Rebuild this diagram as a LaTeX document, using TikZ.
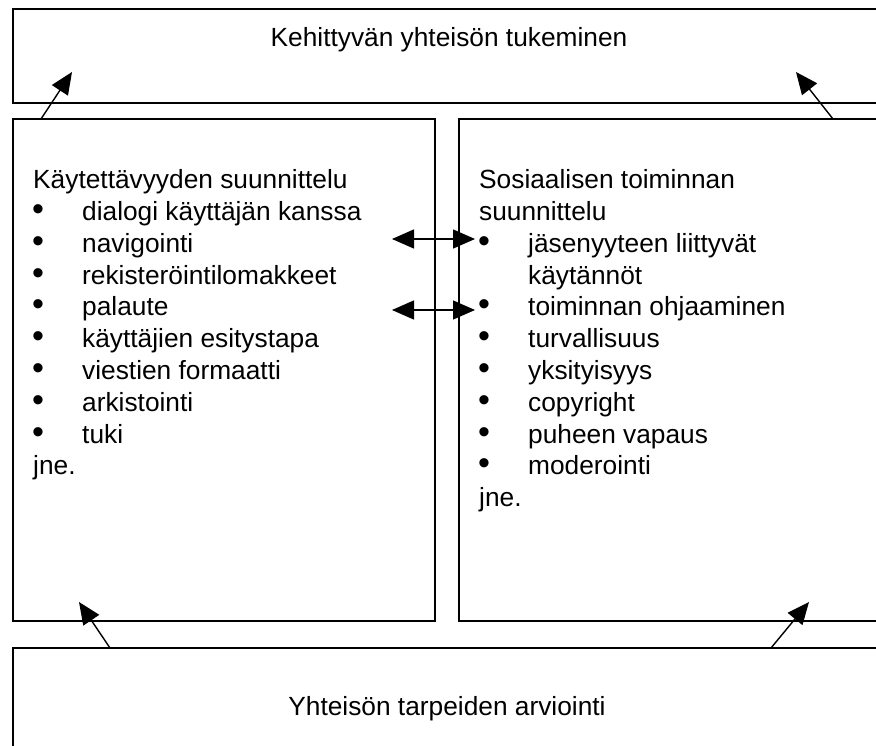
\documentclass[tikz,border=0pt]{standalone}
\usepackage{fontspec}
\setmainfont{Liberation Sans}
\usetikzlibrary{arrows.meta}
\newcommand\bul{\makebox[49pt][l]{\hspace*{-1pt}\fontsize{34}{34}\selectfont •}}
\newcommand\ind{\makebox[49pt][l]{}}
\begin{document}
\begin{tikzpicture}[x=1pt,y=-1pt,
  box/.style={draw=black,line width=1.5pt},
  txt/.style={anchor=base west,inner sep=0pt,font=\fontsize{26.3}{31.75}\selectfont},
  ctxt/.style={anchor=base,inner sep=0pt,font=\fontsize{26.3}{31.75}\selectfont},
  link/.style={line width=1.4pt,-{Triangle[length=22pt,width=19pt]}},
  dlink/.style={line width=1.4pt,{Triangle[length=22pt,width=19pt]}-{Triangle[length=22pt,width=19pt]}}]
\useasboundingbox (0,0) rectangle (876,746);
\clip (0,0) rectangle (876,746);
\fill[white] (0,0) rectangle (876,746);

% boxes
\draw[box] (910,9) -- (13,9) -- (13,103) -- (910,103);
\draw[box] (13,119) rectangle (435,621);
\draw[box] (910,119) -- (459,119) -- (459,621) -- (910,621);
\draw[box] (910,648) -- (13,648) -- (13,780);

% box titles
\node[ctxt] (top) at (449,47) {Kehittyvän yhteisön tukeminen};
\node[ctxt] (bottom) at (447,715) {Yhteisön tarpeiden arviointi};

% left list
\foreach \t [count=\i] in {Käytettävyyden suunnittelu,
  \bul dialogi käyttäjän kanssa, \bul navigointi, \bul rekisteröintilomakkeet,
  \bul palaute, \bul käyttäjien esitystapa, \bul viestien formaatti,
  \bul arkistointi, \bul tuki, jne.}
  \node[txt] (L\i) at (33,189+31.75*\i-31.75) {\t};

% right list
\foreach \t [count=\i] in {Sosiaalisen toiminnan, suunnittelu,
  \bul jäsenyyteen liittyvät, \ind käytännöt, \bul toiminnan ohjaaminen,
  \bul turvallisuus, \bul yksityisyys, \bul copyright, \bul puheen vapaus,
  \bul moderointi, jne.}
  \node[txt] (R\i) at (479,189+31.75*\i-31.75) {\t};

% connector end points
\coordinate (a1s) at (41,119);  \coordinate (a1e) at (72,72);
\coordinate (a2s) at (833,119); \coordinate (a2e) at (796,72);
\coordinate (b1s) at (110,648); \coordinate (b1e) at (79,602);
\coordinate (b2s) at (771,648); \coordinate (b2e) at (809,602);
\coordinate (m1l) at (392,239); \coordinate (m1r) at (475,239);
\coordinate (m2l) at (392,310); \coordinate (m2r) at (475,310);

% connectors
\draw[link] (a1s) -- (a1e);
\draw[link] (a2s) -- (a2e);
\draw[link] (b1s) -- (b1e);
\draw[link] (b2s) -- (b2e);
\draw[dlink] (m1l) -- (m1r);
\draw[dlink] (m2l) -- (m2r);
\end{tikzpicture}
\end{document}
